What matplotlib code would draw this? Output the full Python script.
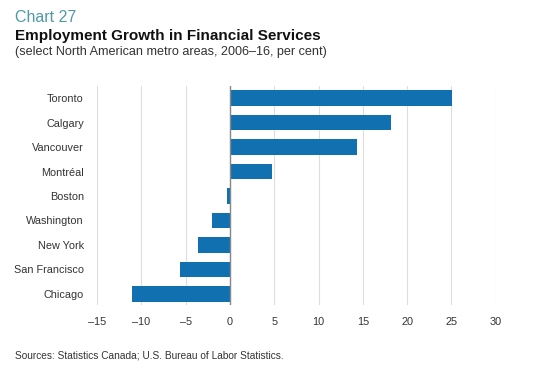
import matplotlib
matplotlib.use("Agg")
import matplotlib.pyplot as plt

plt.rcParams['font.family'] = ['Liberation Sans', 'DejaVu Sans']

# data
cities = ['Toronto', 'Calgary', 'Vancouver', 'Montréal', 'Boston',
          'Washington', 'New York', 'San Francisco', 'Chicago']
growth = [25.1, 18.2, 14.3, 4.75, -0.3, -2.0, -3.55, -5.6, -11.0]
xticks = [-15, -10, -5, 0, 5, 10, 15, 20, 25, 30]

bar_color = '#1170b0'
text_color = '#333333'

fig = plt.figure(figsize=(5.36, 3.75), dpi=100)
ax = fig.add_axes([0.181, 0.187, 0.744, 0.584])

ypos = list(range(len(cities)))[::-1]
ax.barh(ypos, growth, height=0.64, color=bar_color, zorder=3)

ax.set_xlim(-15, 30)
ax.set_ylim(-0.45, 8.5)
ax.set_xticks(xticks)
ax.set_xticklabels([str(t).replace('-', '\u2013') for t in xticks])
ax.set_yticks(ypos)
ax.set_yticklabels(cities)
ax.tick_params(axis='both', length=0, labelsize=7.8, colors=text_color)
ax.tick_params(axis='x', pad=9)
ax.tick_params(axis='y', pad=9.5)

ax.grid(axis='x', color='#dddddd', linewidth=0.8, zorder=0)
ax.axvline(0, color='#888888', linewidth=1, zorder=4)
for s in ax.spines.values():
    s.set_visible(False)

# titles
fig.text(15 / 536, 1 - 17 / 375, 'Chart 27', fontsize=11.5, color='#4e9aa6', va='center')
fig.text(15 / 536, 1 - 36 / 375, 'Employment Growth in Financial Services',
         fontsize=11, fontweight='bold', color='#111111', va='center')
fig.text(15 / 536, 1 - 52 / 375, '(select North American metro areas, 2006\u201316, per cent)',
         fontsize=9.1, color=text_color, va='center')
fig.text(15 / 536, 1 - 355 / 375, 'Sources: Statistics Canada; U.S. Bureau of Labor Statistics.',
         fontsize=7.3, color=text_color, va='center')

fig.savefig('out.png', dpi=100)
